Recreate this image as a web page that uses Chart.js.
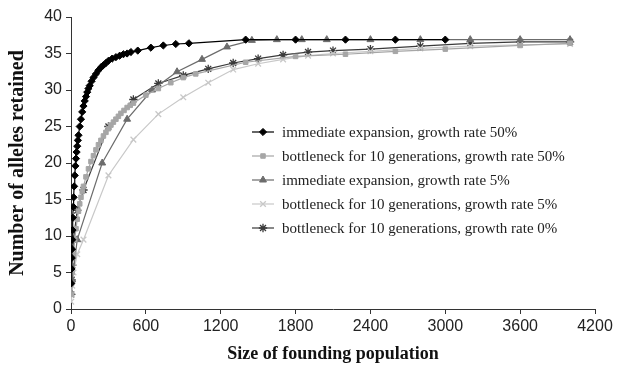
<!DOCTYPE html>
<html lang="en">
<head>
    <meta charset="UTF-8">
    <title>Alleles retained vs founding population</title>
    <script src="https://cdn.jsdelivr.net/npm/chart.js@4.4.0/dist/chart.umd.min.js"></script>
    <style>
        body { margin: 0; background: #fff; }
        #wrap { width: 617px; height: 367px; }
    </style>
</head>
<body>
    <div id="wrap"><canvas id="allelesChart" width="617" height="367"></canvas></div>

    <script>
        // immediate expansion, growth rate 50%
        const xImm50 = [2, 4, 6, 8, 10, 12, 15, 18, 21, 25, 30, 35, 40, 45, 50, 55, 60, 70, 80, 90, 100, 110, 120, 130, 140, 150, 165, 180, 200, 220, 240, 260, 280, 300, 330, 360, 390, 420, 450, 480, 535, 640, 740, 840, 945, 1400, 1800, 2200, 2600, 3000];
        const yImm50 = [3.5, 5.5, 7, 8.2, 9.5, 10.8, 12.5, 14, 15.3, 16.8, 18.3, 19.6, 20.6, 21.5, 22.3, 23.1, 23.8, 25, 26, 27, 27.8, 28.5, 29.1, 29.7, 30.2, 30.6, 31.2, 31.7, 32.2, 32.7, 33.1, 33.4, 33.7, 34, 34.3, 34.5, 34.7, 34.9, 35, 35.2, 35.4, 35.8, 36.1, 36.3, 36.4, 36.9, 36.9, 36.9, 36.9, 36.9];

        // bottleneck for 10 generations, growth rate 50%
        const xBott50 = [2, 5, 10, 20, 30, 40, 50, 60, 70, 80, 90, 100, 120, 140, 160, 180, 200, 220, 240, 260, 280, 300, 320, 340, 360, 380, 400, 425, 450, 475, 500, 600, 700, 800, 900, 1000, 1400, 1800, 2200, 2600, 3000, 3600, 4000];
        const yBott50 = [2, 3.5, 5, 7.5, 9.5, 11, 12.3, 13.4, 14.4, 15.3, 16.1, 16.8, 18.1, 19.2, 20.2, 21, 21.8, 22.5, 23.1, 23.7, 24.2, 24.7, 25.2, 25.6, 26, 26.4, 26.8, 27.2, 27.6, 27.9, 28.2, 29.3, 30.2, 31, 31.7, 32.2, 33.8, 34.6, 34.9, 35.3, 35.6, 36.1, 36.4];

        // immediate expansion, growth rate 5%
        const xImm5 = [2, 10, 50, 250, 450, 650, 850, 1050, 1250, 1450, 1650, 1850, 2050, 2400, 2800, 3200, 3600, 4000];
        const yImm5 = [2.2, 4, 9.5, 20, 26, 30, 32.5, 34.2, 35.9, 36.8, 36.9, 36.9, 36.9, 36.9, 36.9, 36.9, 36.9, 36.9];

        // bottleneck for 10 generations, growth rate 5%
        const xBott5 = [2, 5, 10, 20, 50, 100, 300, 500, 700, 900, 1100, 1300, 1500, 1700, 1900, 2100, 2400, 2800, 3200, 3600, 4000];
        const yBott5 = [1, 2, 3.2, 5, 7.5, 9.5, 18.3, 23.2, 26.7, 29, 31, 32.8, 33.6, 34.2, 34.7, 35, 35.3, 35.7, 36, 36.2, 36.3];

        // bottleneck for 10 generations, growth rate 0%
        const xBott0 = [2, 5, 10, 20, 50, 100, 300, 500, 700, 900, 1100, 1300, 1500, 1700, 1900, 2100, 2400, 2800, 3200, 3600, 4000];
        const yBott0 = [2, 4, 6, 9.5, 13.5, 16.3, 25, 28.7, 30.9, 32, 32.9, 33.7, 34.3, 34.8, 35.2, 35.4, 35.6, 36, 36.4, 36.6, 36.6];

        const seriesLabels = [
            'immediate expansion, growth rate 50%',
            'bottleneck for 10 generations, growth rate 50%',
            'immediate expansion, growth rate 5%',
            'bottleneck for 10 generations, growth rate 5%',
            'bottleneck for 10 generations, growth rate 0%'
        ];

        function pts(xs, ys) {
            return xs.map((x, i) => ({ x: x, y: ys[i] }));
        }

        function series(label, xs, ys, color, style, radius) {
            return {
                label: label,
                data: pts(xs, ys),
                showLine: true,
                borderColor: color,
                backgroundColor: color,
                borderWidth: 1.2,
                pointStyle: style,
                pointRadius: radius,
                pointBorderWidth: style === 'crossRot' || style === 'star' ? 1.3 : 1,
                pointBorderColor: color,
                pointBackgroundColor: color,
                tension: 0
            };
        }

        const datasets = [
            series(seriesLabels[0], xImm50, yImm50, '#000000', 'rectRot', 3.6),
            series(seriesLabels[1], xBott50, yBott50, '#a6a6a6', 'rect', 3.2),
            series(seriesLabels[2], xImm5, yImm5, '#6c6c6c', 'triangle', 4),
            series(seriesLabels[3], xBott5, yBott5, '#c8c8c8', 'crossRot', 4),
            series(seriesLabels[4], xBott0, yBott0, '#3a3a3a', 'star', 4.2)
        ];

        // legend drawn inside the plot, like the original figure
        const insideLegend = {
            id: 'insideLegend',
            afterDraw(chart) {
                const ctx = chart.ctx;
                const rows = [132, 156, 180, 204, 228];
                ctx.save();
                chart.data.datasets.forEach((ds, i) => {
                    const y = rows[i];
                    ctx.strokeStyle = ds.borderColor;
                    ctx.lineWidth = 1.2;
                    ctx.beginPath();
                    ctx.moveTo(252, y);
                    ctx.lineTo(274, y);
                    ctx.stroke();
                    ctx.fillStyle = ds.pointBackgroundColor;
                    ctx.lineWidth = ds.pointBorderWidth;
                    Chart.helpers.drawPoint(ctx, {
                        pointStyle: ds.pointStyle,
                        radius: ds.pointRadius,
                        borderWidth: ds.pointBorderWidth,
                        rotation: 0
                    }, 263, y);
                    ctx.fillStyle = '#222';
                    ctx.font = '15px "Liberation Serif", "Times New Roman", serif';
                    ctx.textBaseline = 'middle';
                    ctx.textAlign = 'left';
                    ctx.fillText(ds.label, 282, y + 1);
                });
                ctx.restore();
            }
        };

        const tickFont = { family: '"Liberation Sans", Arial, sans-serif', size: 16 };
        const titleFont = { family: '"Liberation Serif", "Times New Roman", serif', size: 18, weight: 'bold' };

        new Chart('allelesChart', {
            type: 'scatter',
            data: { datasets: datasets },
            options: {
                responsive: false,
                animation: false,
                layout: { padding: { left: 0, right: 22, top: 17, bottom: 0 } },
                plugins: {
                    legend: { display: false },
                    tooltip: { enabled: false }
                },
                scales: {
                    x: {
                        type: 'linear',
                        min: 0,
                        max: 4200,
                        ticks: { stepSize: 600, color: '#222', font: tickFont, padding: 3, maxRotation: 0,
                                 callback: v => String(v) },
                        grid: { display: true, drawOnChartArea: false, drawTicks: true, tickLength: 5, color: '#333' },
                        border: { display: true, color: '#333', width: 1 },
                        title: { display: true, text: 'Size of founding population', color: '#111', font: titleFont, padding: { top: 0, bottom: 2 } },
                        afterFit(scale) { scale.height = 58; }
                    },
                    y: {
                        min: 0,
                        max: 40,
                        ticks: { stepSize: 5, color: '#222', font: tickFont, padding: 4, callback: v => String(v) },
                        grid: { display: true, drawOnChartArea: false, drawTicks: true, tickLength: 5, color: '#333' },
                        border: { display: true, color: '#333', width: 1 },
                        title: { display: true, text: 'Number of alleles retained', color: '#111',
                                 font: { family: titleFont.family, size: 20, weight: 'bold' }, padding: { top: 6, bottom: 0 } },
                        afterFit(scale) { scale.width = 71; }
                    }
                }
            },
            plugins: [insideLegend]
        });
    </script>
</body>
</html>
